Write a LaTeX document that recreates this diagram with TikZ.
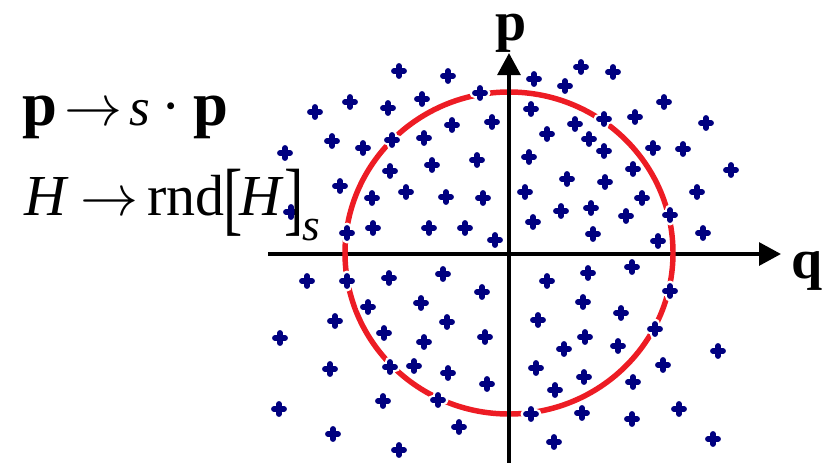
\RequirePackage{fix-cm}
\documentclass[tikz,border=0pt]{standalone}
\usepackage{fontspec}
\setmainfont{Liberation Serif}
\usetikzlibrary{arrows.meta}
\definecolor{ptblue}{HTML}{000080}
\definecolor{circred}{HTML}{ED1C24}
\begin{document}
\begin{tikzpicture}[x=0.75pt,y=-0.75pt,
  axisarrow/.style={line width=3pt,-{Triangle[length=16.5pt,width=17pt]}},
  circ/.style={draw=circred,line width=4.1pt},
  halo/.style={draw=white,line width=7.5pt,line cap=round},
  cross/.style={draw=ptblue,line width=4.4pt,line cap=round},
  bigtxt/.style={inner sep=0pt,font=\fontsize{43.5}{50}\selectfont},
  axlab/.style={inner sep=0pt,text height=0.6em,font=\fontsize{42}{42}\selectfont\bfseries}]
\useasboundingbox (0,0) rectangle (824,462);
\def\ptlist{399/71,448/76,350/102,315/112,388/108,422/99,480/93,452/125,492/122,332/141,363/148,392/140,424/138,285/153,477/160,390/171,432/165,340/186,372/198,406/192,446/197,483/198,291/212,347/233,373/228,429/228,465/228,495/240,
581/67,613/72,534/79,565/86,664/102,531/109,604/119,635/117,706/123,575/124,547/134,589/139,604/151,653/148,683/149,529/157,633/169,731/170,567/179,605/182,525/192,697/192,642/198,561/211,591/208,626/216,670/215,533/222,593/234,658/241,703/233,
307/281,347/281,389/278,443/274,482/292,368/307,421/303,335/321,447/322,280/338,384/333,424/342,485/337,330/369,390/367,414/366,448/373,487/384,279/409,383/401,438/400,459/427,333/434,399/450,
547/281,588/273,632/267,670/291,583/302,621/313,538/320,655/329,585/337,564/349,618/346,718/351,536/368,663/365,584/377,633/382,555/390,531/414,582/413,632/419,679/409,554/442,713/439}
% axes coordinates
\coordinate (O) at (509,254);
\coordinate (xl) at (268,254);
\coordinate (xr) at (781,254);
\coordinate (yb) at (509,470);
\coordinate (yt) at (509,53);
\coordinate (C) at (509,253);
% horizontal axis
\draw[axisarrow] (xl) -- (xr);
% circle
\draw[circ] (C) ellipse [x radius=123pt, y radius=120.75pt];
% halos
\foreach \a/\b in \ptlist {
  \draw[halo] (\a-5.5,\b) -- (\a+5.5,\b) (\a,\b-5.5) -- (\a,\b+5.5);
}
% vertical axis
\draw[axisarrow] (yb) -- (yt);
% crosses
\foreach \a/\b in \ptlist {
  \draw[cross] (\a-5,\b) -- (\a+5,\b) (\a,\b-5) -- (\a,\b+5);
}
% axis labels
\node[axlab,anchor=base] (plab) at (511,40) {p};
\node[axlab,anchor=base] (qlab) at (807,278) {q};
% rules
\node[bigtxt,anchor=base west] (rule1) at (22,125)
  {{\fontsize{47}{50}\selectfont\bfseries p}\hspace{0.12em}$\rightarrow$\hspace{0.12em}{\fontsize{40}{40}\selectfont\itshape s}\hspace{0.2em}·\hspace{0.22em}{\fontsize{47}{50}\selectfont\bfseries p}};
\node[bigtxt,anchor=base west] (rule2) at (24,215)
  {\textit{H}\hspace{0.2em}$\rightarrow$\hspace{0.15em}rnd\hspace{-0.02em}\raisebox{-7.5pt}{\scalebox{1}[1.4]{[}}\hspace{-0.06em}\textit{H}\hspace{0.02em}\raisebox{-7.5pt}{\scalebox{1}[1.4]{]}}\hspace{-0.02em}\raisebox{-18.75pt}{\fontsize{34}{34}\selectfont\itshape s}};
\end{tikzpicture}
\end{document}
